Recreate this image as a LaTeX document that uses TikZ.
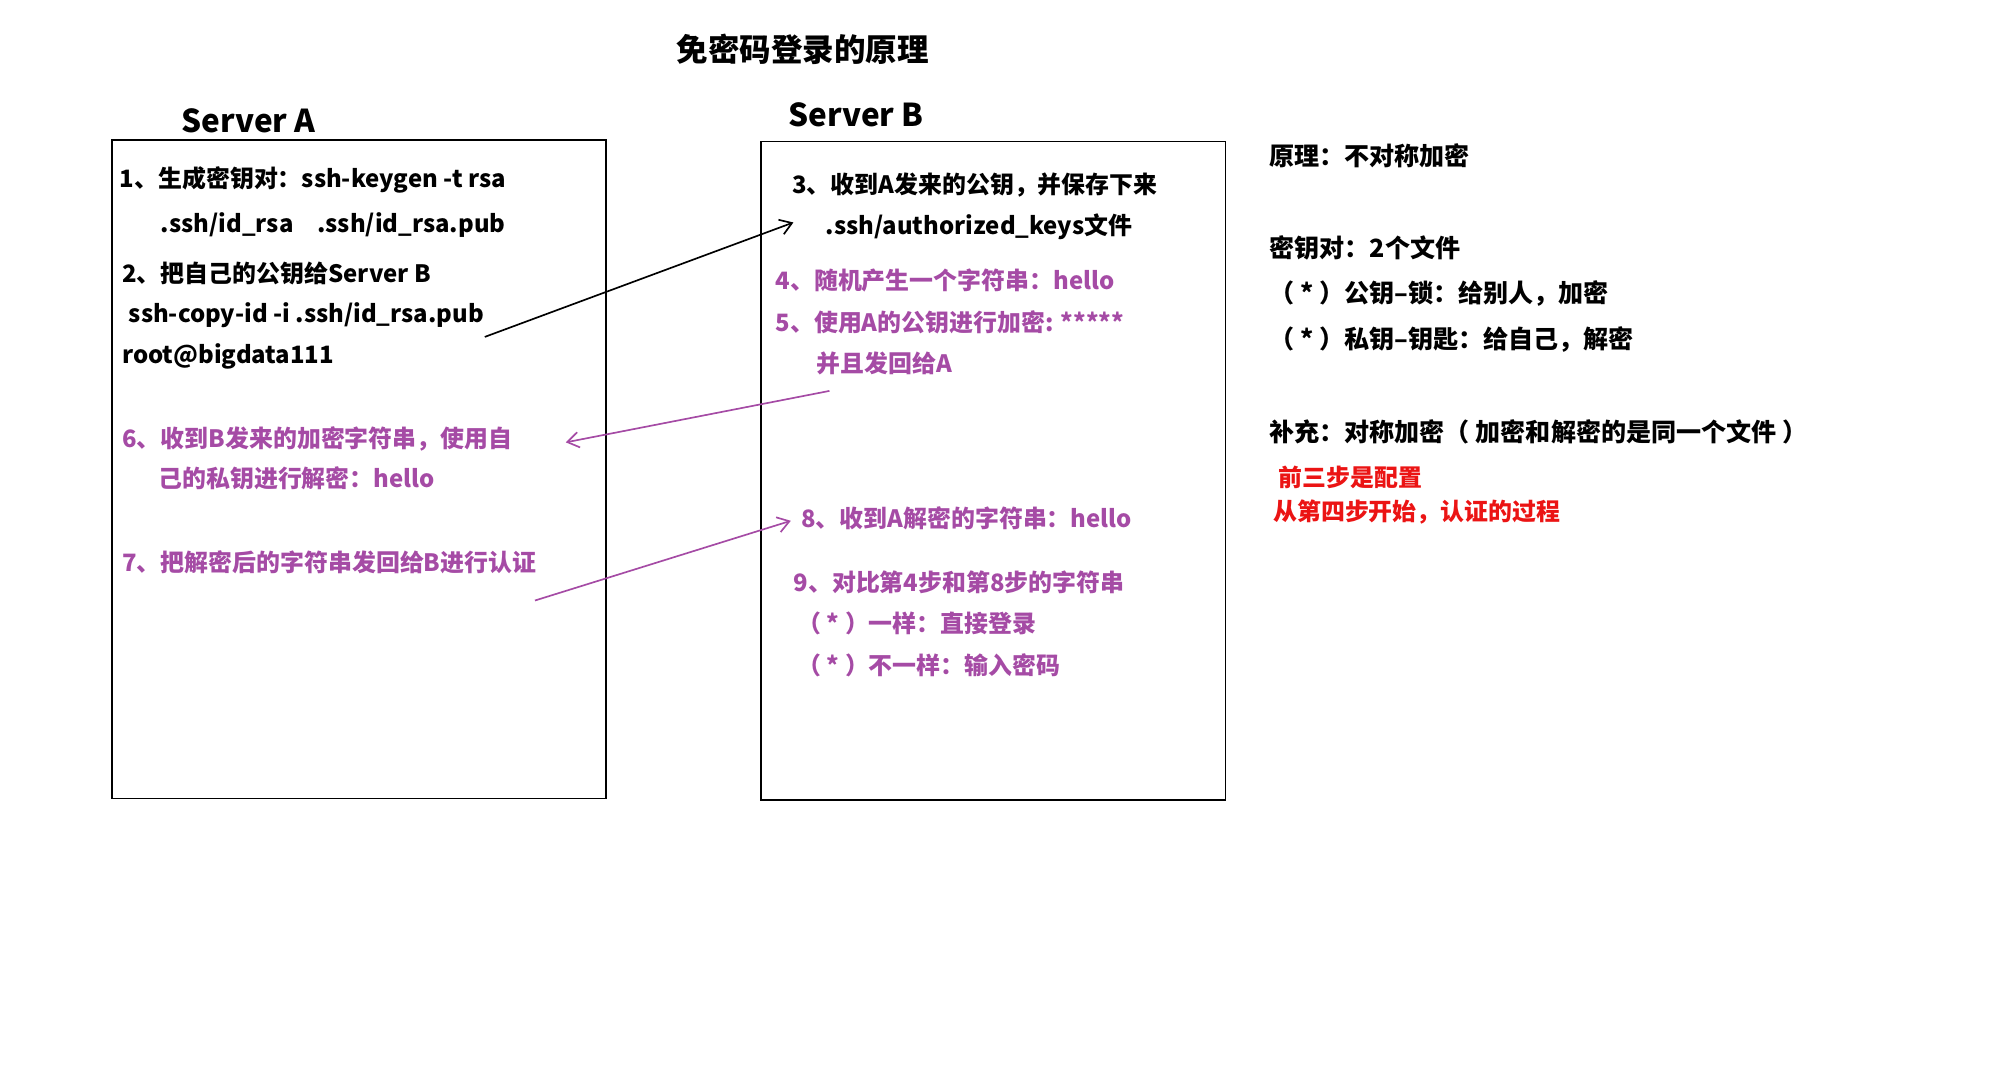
\documentclass[tikz,border=0pt]{standalone}
\usepackage{fontspec}
\setmainfont{Noto Sans CJK SC}
\usetikzlibrary{arrows.meta}
\definecolor{pur}{RGB}{165,75,165}
\definecolor{myred}{RGB}{235,20,20}
\begin{document}
\begin{tikzpicture}[x=1pt,y=-1pt,
  t/.style={anchor=west,inner sep=0pt,font=\fontsize{18.6}{20}\selectfont\bfseries},
  rn/.style={t,font=\fontsize{19.5}{21}\selectfont\bfseries},
  p/.style={t,text=pur},
  r/.style={rn,text=myred,font=\fontsize{18.6}{20}\selectfont\bfseries},
  box/.style={draw,line width=1.4pt},
  arr/.style={line width=1.3pt,-{Straight Barb[length=9pt,width=12pt]}}]
\useasboundingbox (0,0) rectangle (1560,835);
\node[t,font=\fontsize{24.5}{26}\selectfont\bfseries] (title) at (526,38) {免密码登录的原理};
\node[t,font=\fontsize{24.5}{26}\selectfont\bfseries] (sa) at (141,94) {Server A};
\node[t,font=\fontsize{24.5}{26}\selectfont\bfseries] (sb) at (613,89) {Server B};
\draw[box] (87,109) rectangle (471,621);
\draw[box] (592,110) rectangle (953,622);
% server A
\node[t] (a1) at (93,140) {1、生成密钥对：ssh-keygen -t rsa};
\node[t] (a1b) at (125,175) {.ssh/id\_rsa\quad .ssh/id\_rsa.pub};
\node[t] (a2) at (95,213) {2、把自己的公钥给Server B};
\node[t] (a2b) at (100,245) {ssh-copy-id -i .ssh/id\_rsa.pub};
\node[t] (a2c) at (95,277) {root@bigdata111};
\node[p] (a6) at (95,341) {6、收到B发来的加密字符串，使用自};
\node[p] (a6b) at (123,372) {己的私钥进行解密：hello};
\node[p] (a7) at (95,437) {7、把解密后的字符串发回给B进行认证};
% server B
\node[t] (b3) at (616,144) {3、收到A发来的公钥，并保存下来};
\node[t] (b3b) at (642,176) {.ssh/authorized\_keys文件};
\node[p] (b4) at (603,218) {4、随机产生一个字符串：hello};
\node[p] (b5) at (603,251) {5、使用A的公钥进行加密: *****};
\node[p] (b5b) at (635,283) {并且发回给A};
\node[p] (b8) at (623,403) {8、收到A解密的字符串：hello};
\node[p] (b9) at (617,453) {9、对比第4步和第8步的字符串};
\node[p] (b9a) at (620,485) {（ * ）一样：直接登录};
\node[p] (b9b) at (620,517) {（ * ）不一样：输入密码};
% right notes
\node[rn] (n1) at (987,121) {原理：不对称加密};
\node[rn] (n2) at (987,193) {密钥对：2个文件};
\node[rn] (n3) at (987,228) {（ * ）公钥--锁：给别人，加密};
\node[rn] (n4) at (987,264) {（ * ）私钥--钥匙：给自己，解密};
\node[rn] (n5) at (987,336) {补充：对称加密（ 加密和解密的是同一个文件 ）};
\node[r] (n6) at (994,371) {前三步是配置};
\node[r] (n7) at (990,398) {从第四步开始，认证的过程};
% arrows
\coordinate (s1) at (377,262); \coordinate (e1) at (617,173);
\coordinate (s2) at (645,304); \coordinate (e2) at (440,344);
\coordinate (s3) at (416,467); \coordinate (e3) at (615,405);
\draw[arr] (s1) -- (e1);
\draw[arr,pur] (s2) -- (e2);
\draw[arr,pur] (s3) -- (e3);
\end{tikzpicture}
\end{document}
